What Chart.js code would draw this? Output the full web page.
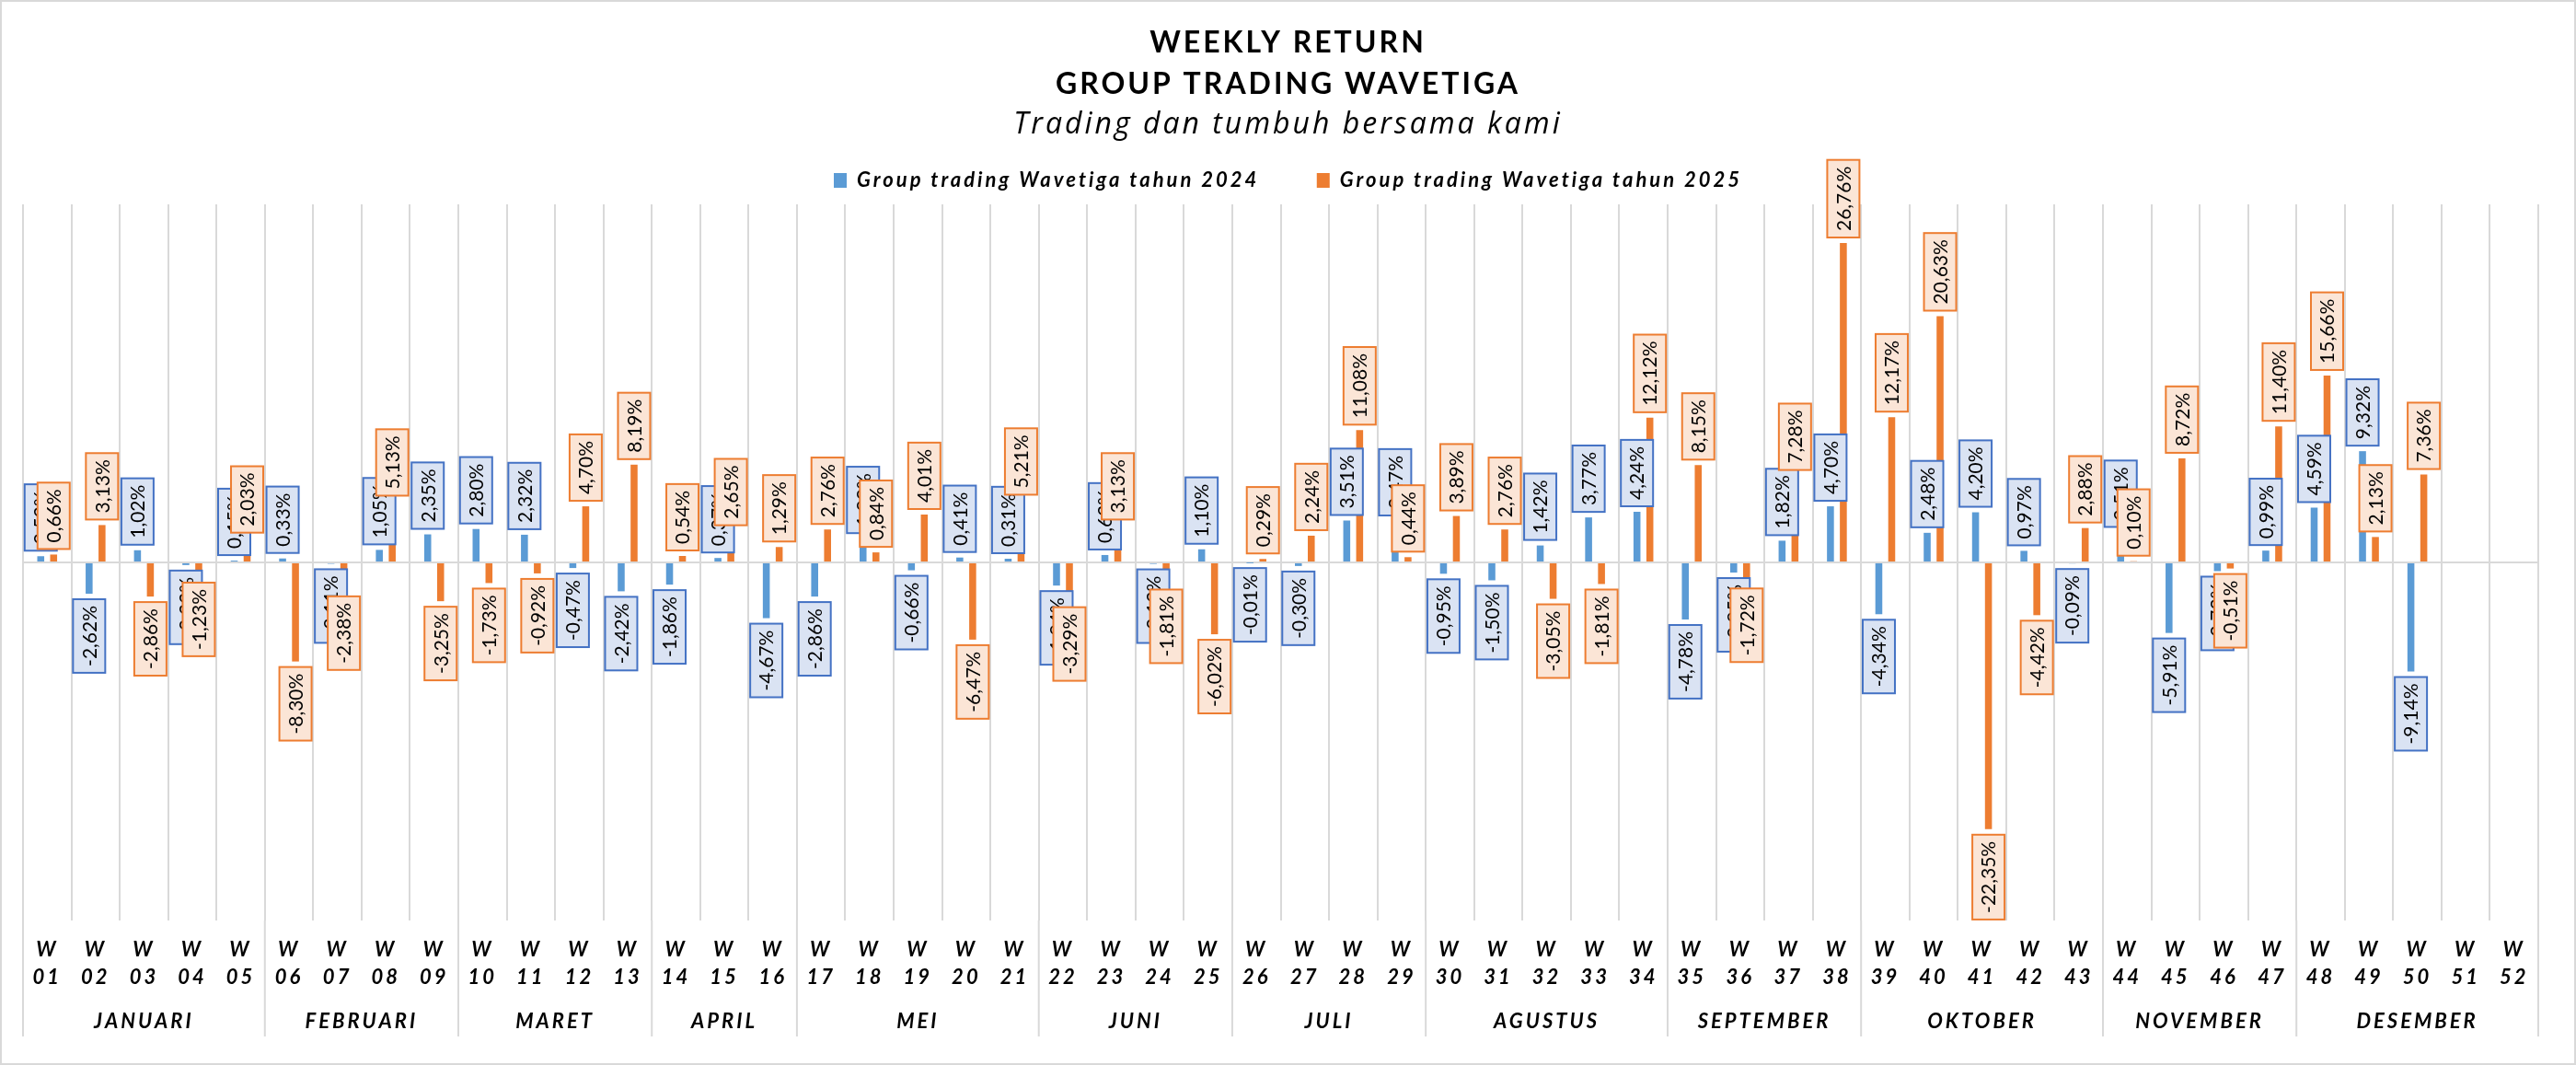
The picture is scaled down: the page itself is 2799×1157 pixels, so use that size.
<!DOCTYPE html>
<html>
<head>
<meta charset="utf-8">
<script src="https://cdn.jsdelivr.net/npm/chart.js@4.4.1/dist/chart.umd.min.js"></script>
<style>
	body { margin: 0; background: #fff; }
	canvas { display: block; }
</style>
</head>
<body>
<canvas id="graph" width="2799" height="1157"></canvas>
<script>
const weeks = ['01', '02', '03', '04', '05', '06', '07', '08', '09', '10', '11', '12', '13',
	'14', '15', '16', '17', '18', '19', '20', '21', '22', '23', '24', '25', '26',
	'27', '28', '29', '30', '31', '32', '33', '34', '35', '36', '37', '38', '39',
	'40', '41', '42', '43', '44', '45', '46', '47', '48', '49', '50', '51', '52'];
const months = ['JANUARI', 'FEBRUARI', 'MARET', 'APRIL', 'MEI', 'JUNI', 'JULI',
	'AGUSTUS', 'SEPTEMBER', 'OKTOBER', 'NOVEMBER', 'DESEMBER'];
const monthWeeks = [5, 4, 4, 3, 5, 4, 4, 5, 4, 5, 4, 5];

const return2024 = [0.52, -2.62, 1.02, -0.22, 0.15, 0.33, -0.11, 1.05, 2.35, 2.80,
	2.32, -0.47, -2.42, -1.86, 0.37, -4.67, -2.86, 1.99, -0.66, 0.41,
	0.31, -1.94, 0.62, -0.12, 1.10, -0.01, -0.30, 3.51, 3.47, -0.95,
	-1.50, 1.42, 3.77, 4.24, -4.78, -0.85, 1.82, 4.70, -4.34, 2.48,
	4.20, 0.97, -0.09, 2.51, -5.91, -0.73, 0.99, 4.59, 9.32, -9.14, null, null];
const return2025 = [0.66, 3.13, -2.86, -1.23, 2.03, -8.30, -2.38, 5.13, -3.25, -1.73,
	-0.92, 4.70, 8.19, 0.54, 2.65, 1.29, 2.76, 0.84, 4.01, -6.47,
	5.21, -3.29, 3.13, -1.81, -6.02, 0.29, 2.24, 11.08, 0.44, 3.89,
	2.76, -3.05, -1.81, 12.12, 8.15, -1.72, 7.28, 26.76, 12.17, 20.63,
	-22.35, -4.42, 2.88, 0.10, 8.72, -0.51, 11.40, 15.66, 2.13, 7.36, null, null];

const seriesNames = ['Group trading Wavetiga tahun 2024', 'Group trading Wavetiga tahun 2025'];
const barColors = ['#5B9BD5', '#ED7D31'];
const boxFill = ['#DAE3F3', '#FBE5D6'];
const boxLine = ['#4472C4', '#ED7D31'];

const fontName = 'Lato';

// excel text looks a bit spread out
const spacing = {
	id: 'spacing',
	beforeUpdate(chart) {
		chart.ctx.letterSpacing = '3px';
	},
	beforeDraw(chart) {
		chart.ctx.letterSpacing = '3px';
	}
};

const valueLabels = {
	id: 'valueLabels',
	afterDatasetsDraw(chart) {
		const ctx = chart.ctx;
		ctx.save();
		ctx.letterSpacing = '0px';
		ctx.font = '21px ' + fontName;
		ctx.textAlign = 'center';
		ctx.textBaseline = 'middle';
		ctx.lineWidth = 2;
		chart.data.datasets.forEach((ds, di) => {
			const meta = chart.getDatasetMeta(di);
			meta.data.forEach((bar, i) => {
				const v = ds.data[i];
				if (v === null) return;
				const text = v.toFixed(2).replace('.', ',') + '%';
				const len = ctx.measureText(text).width + 14;
				const thick = 35;
				const cy = v >= 0 ? bar.y - 6 - len / 2 : bar.y + 6 + len / 2;
				ctx.fillStyle = boxFill[di];
				ctx.strokeStyle = boxLine[di];
				ctx.fillRect(bar.x - thick / 2, cy - len / 2, thick, len);
				ctx.strokeRect(bar.x - thick / 2, cy - len / 2, thick, len);
				ctx.save();
				ctx.translate(bar.x, cy);
				ctx.rotate(-Math.PI / 2);
				ctx.fillStyle = '#000';
				ctx.fillText(text, 0, 1);
				ctx.restore();
			});
		});
		ctx.restore();
	}
};

const monthAxis = {
	id: 'monthAxis',
	afterDraw(chart) {
		const ctx = chart.ctx;
		const x = chart.scales.x;
		const half = (x.getPixelForValue(1) - x.getPixelForValue(0)) / 2;
		const top = chart.chartArea.bottom;
		ctx.save();
		ctx.letterSpacing = '3px';
		ctx.strokeStyle = '#D9D9D9';
		ctx.lineWidth = 2;
		ctx.fillStyle = '#000';
		ctx.font = 'italic bold 22px ' + fontName;
		ctx.textAlign = 'center';
		ctx.textBaseline = 'middle';
		let start = 0;
		months.forEach((m, i) => {
			const end = start + monthWeeks[i] - 1;
			const left = x.getPixelForValue(start) - half;
			const right = x.getPixelForValue(end) + half;
			ctx.beginPath();
			ctx.moveTo(left, top);
			ctx.lineTo(left, top + 126);
			if (i === months.length - 1) {
				ctx.moveTo(right, top);
				ctx.lineTo(right, top + 126);
			}
			ctx.stroke();
			ctx.fillText(m, (left + right) / 2, top + 110);
			start = end + 1;
		});
		// outer frame
		ctx.strokeRect(1, 1, chart.width - 2, chart.height - 2);
		ctx.restore();
	}
};

const ctx = document.getElementById('graph').getContext('2d');

const myChart = new Chart(ctx, {
	type: 'bar',
	data: {
		labels: weeks.map(w => ['W', w]),
		datasets: [{
			label: seriesNames[0],
			data: return2024,
			backgroundColor: barColors[0],
			borderWidth: 0,
			xAxisID: 'x',
			categoryPercentage: 0.533,
			barPercentage: 0.54
		}, {
			label: seriesNames[1],
			data: return2025,
			backgroundColor: barColors[1],
			borderWidth: 0,
			xAxisID: 'x',
			categoryPercentage: 0.533,
			barPercentage: 0.54
		}]
	},
	plugins: [spacing, valueLabels, monthAxis],
	options: {
		responsive: false,
		animation: false,
		devicePixelRatio: 1,
		layout: {
			padding: { top: 0, left: 25, right: 25, bottom: 63 }
		},
		plugins: {
			tooltip: { enabled: false },
			title: {
				display: true,
				text: ['WEEKLY RETURN', 'GROUP TRADING WAVETIGA'],
				color: '#000',
				font: { family: fontName, size: 32, weight: 'bold', lineHeight: 1.40625 },
				padding: { top: 24.5, bottom: 0 }
			},
			subtitle: {
				display: true,
				text: 'Trading dan tumbuh bersama kami',
				color: '#000',
				font: { family: 'Open Sans', size: 32, style: 'italic', weight: 'normal', lineHeight: 1.125 },
				padding: { top: 3.5, bottom: 23 }
			},
			legend: {
				position: 'top',
				labels: {
					color: '#000',
					font: { family: fontName, size: 22, style: 'italic', weight: 'bold' },
					boxWidth: 14,
					boxHeight: 16,
					padding: 8,
					generateLabels(chart) {
						const items = Chart.defaults.plugins.legend.labels.generateLabels(chart);
						items[0].text += '\u2003\u2003\u2003';
						return items;
					}
				}
			}
		},
		scales: {
			x: {
				position: 'bottom',
				grid: {
					color: '#D9D9D9',
					lineWidth: 2,
					drawTicks: false
				},
				border: { display: false },
				ticks: {
					color: '#000',
					font: { family: fontName, size: 22, style: 'italic', weight: 'bold', lineHeight: 30 / 22 },
					padding: 17,
					autoSkip: false,
					maxRotation: 0,
					minRotation: 0
				}
			},
			gap: {
				type: 'category',
				position: 'top',
				grid: { display: false, drawTicks: false },
				border: { display: false },
				ticks: { display: false },
				afterFit(scale) {
					scale.height = 5;
				}
			},
			y: {
				position: 'right',
				min: -30,
				max: 30,
				ticks: { display: false, stepSize: 10 },
				grid: {
					drawTicks: false,
					lineWidth: 2,
					color: (c) => c.tick.value === 0 ? '#D9D9D9' : 'rgba(0,0,0,0)'
				},
				border: { display: false },
				afterFit(scale) {
					scale.width = 16;
				}
			}
		}
	}
});
</script>
</body>
</html>
